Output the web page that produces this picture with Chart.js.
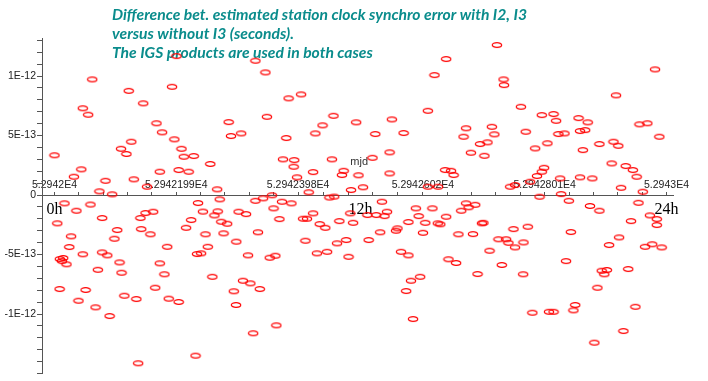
<!DOCTYPE html>
<html>
<head>
<meta charset="utf-8">
<script src="https://cdn.jsdelivr.net/npm/chart.js@4.4.0/dist/chart.umd.min.js"></script>
<style>
  html, body { margin: 0; padding: 0; background: #fff; }
  #wrap { width: 708px; height: 381px; position: relative; }
</style>
</head>
<body>
<div id="wrap"><canvas id="synchroDiff"></canvas></div>
<script>
// hour of day (0h = mjd 52942)
var hours = [
  1.48, 2.91, 4.61, 7.88, 8.27, 4.78, 3.48, 1.11, 1.32, 9.18,
  9.67, 8.33, 6.83, 4.00, 10.94, 11.83, 10.51, 10.23, 4.22, 6.92,
  7.32, 4.70, 3.01, 9.09, 2.61, 2.82, 4.98, 5.07, 5.46, 0.00,
  6.11, 8.96, 9.40, 9.38, 10.88, 1.05, 4.13, 4.87, 5.26, 10.14,
  11.34, 11.27, 11.92, 9.51, 0.76, 2.00, 3.11, 3.63, 6.38, 12.10,
  11.63, 1.76, 2.26, 9.97, 10.78, 10.97, 0.39, 1.41, 0.86, 0.11,
  1.87, 0.65, 0.58, 0.21, 0.34, 0.29, 0.47, 1.11, 1.87, 2.07,
  2.46, 2.35, 2.55, 1.70, 2.63, 0.20, 1.22, 0.94, 1.61, 2.16,
  2.74, 3.21, 3.95, 4.48, 4.87, 3.28, 5.53, 3.37, 3.57, 3.87,
  3.40, 3.76, 4.42, 4.13, 4.31, 5.63, 6.48, 5.82, 6.27, 6.40,
  5.36, 5.16, 5.92, 6.54, 6.77, 6.63, 6.01, 5.59, 5.75, 6.19,
  7.13, 7.22, 7.51, 7.88, 8.18, 8.53, 8.59, 8.82, 8.92, 9.29,
  7.98, 7.59, 8.44, 8.66, 7.39, 7.68, 8.05, 7.03, 7.12, 7.79,
  8.70, 9.75, 9.90, 10.14, 10.40, 10.62, 9.84, 11.17, 11.71, 11.60,
  10.29, 10.69, 11.08, 11.44, 11.53, 12.32, 12.27, 12.62, 12.84, 13.04,
  12.94, 12.77, 14.17, 14.82, 14.28, 13.88, 14.54, 15.36, 13.45, 13.39,
  14.45, 15.13, 15.03, 15.95, 16.14, 16.24, 16.50, 16.82, 16.76, 15.84,
  16.41, 13.59, 13.88, 15.45, 15.75, 17.06, 17.41, 17.71, 17.80, 18.06,
  18.39, 18.00, 18.56, 17.54, 16.59, 18.38, 14.34, 13.98, 13.79, 14.06,
  19.02, 19.87, 20.17, 21.00, 21.37, 20.25, 20.06, 18.74, 19.39, 19.57,
  20.42, 20.35, 21.17, 21.29, 21.46, 21.66, 21.56, 21.75, 22.14, 22.50,
  22.61, 22.31, 22.78, 22.90, 23.35, 23.62, 23.62, 23.16, 23.44, 23.81,
  23.07, 22.22, 17.35, 15.36, 14.90, 17.61, 17.63, 23.55, 22.02, 18.29,
  14.64, 13.23, 19.11, 19.57, 19.67, 20.55, 20.91, 22.94, 23.25, 12.58,
  13.69, 16.14, 16.04, 17.15, 17.25, 18.48, 19.76, 20.00, 20.61, 20.81,
  23.72, 16.69, 16.98, 19.33, 18.85, 21.37, 21.92, 22.11, 20.72, 16.33,
  16.86, 13.14, 12.47, 21.85, 22.40, 22.68, 22.83, 19.20, 19.11, 18.92,
  18.65, 15.32, 15.55, 15.65, 13.14, 20.61, 21.09, 19.83, 17.87, 14.64,
  15.04, 18.06
];
// synchro error difference, in units of 1E-13 s
var diffE13 = [
  9.72, 8.76, 9.10, 11.29, 10.31, 11.68, 7.71, 7.29, 6.75, 8.13,
  8.46, 6.58, 6.13, 6.03, 6.66, 6.11, 5.86, 5.18, 5.27, 4.96,
  5.18, 4.68, 4.48, 4.79, 3.89, 3.45, 3.89, 3.22, 3.28, 3.34,
  2.61, 3.00, 2.94, 2.38, 3.00, 2.16, 1.96, 2.10, 1.96, 1.93,
  2.04, 1.68, 1.66, 1.49, 1.54, 1.20, 1.32, 0.70, 0.48, 0.65,
  0.42, 0.31, 0.06, 0.23, -0.21, -0.13, -0.70, -0.80, -1.32, -2.38,
  -1.93, -3.47, -4.37, -5.38, -5.29, -5.55, -5.82, -4.98, -4.82, -5.07,
  -2.94, -3.67, -5.66, -6.28, -6.53, -7.90, -7.98, -8.88, -9.44, -10.17,
  -8.46, -8.74, -7.79, -8.71, -8.99, -14.14, -13.50, -1.93, -1.51, -1.40,
  -2.86, -3.30, -4.35, -5.74, -6.66, -0.67, -0.36, -1.39, -1.71, -1.37,
  -2.10, -2.75, -3.30, -2.24, -2.41, -3.22, -4.35, -4.96, -4.90, -6.87,
  -3.92, -1.40, -1.60, -0.48, -0.28, -0.02, -1.12, -2.02, -0.56, -0.70,
  -3.13, -5.07, -5.27, -5.10, -7.20, -7.42, -7.90, -8.09, -9.24, -11.62,
  -10.95, -1.99, -1.99, -1.54, -2.44, -2.75, -3.84, -2.19, -2.33, -1.54,
  -4.90, -4.77, -4.06, -3.78, -5.19, -3.78, -1.68, -1.68, -0.56, -1.40,
  -1.77, -3.13, -1.12, -1.12, -1.77, -2.27, -2.33, -1.82, -2.80, -3.00,
  -3.17, -2.46, -2.38, -1.32, -0.70, -1.03, -0.82, -2.33, -2.38, -3.30,
  -3.28, -4.77, -5.07, -5.40, -5.71, -4.68, -3.72, -3.72, -4.01, -4.40,
  -3.98, -2.86, -2.66, -5.88, -6.64, -6.66, -6.87, -7.20, -8.07, -10.42,
  -0.14, 0.08, -0.48, -0.92, -1.32, -3.11, -5.55, -9.89, -9.81, -9.81,
  -9.24, -9.69, -12.41, -7.79, -6.36, -6.30, -6.66, -4.20, -3.56, -6.22,
  -2.19, -11.43, -9.39, -0.65, -1.71, -2.02, -2.52, -4.35, -4.14, -4.40,
  0.28, 0.61, 12.61, 11.43, 10.08, 9.72, 9.24, 10.56, 8.38, 7.42,
  7.08, 6.36, 6.72, 6.81, 6.24, 6.47, 6.11, 5.94, 6.03, 5.13,
  5.21, 5.61, 4.90, 5.74, 5.10, 5.32, 5.13, 5.18, 5.38, 5.46,
  4.90, 4.29, 4.43, 4.35, 3.92, 4.29, 4.48, 4.14, 3.78, 3.56,
  3.30, 3.59, 3.13, 2.66, 2.44, 2.10, 1.54, 2.29, 1.96, 1.60,
  1.12, 2.10, 2.04, 1.68, 1.82, 1.49, 1.40, 1.40, 0.70, 0.70,
  0.70, 0.84
];

// x axis: mjd tick labels, placed at their hour of day
var xMajorHours = [0, 4.776, 9.552, 14.448, 19.224, 24];
var xMajorLabels = ['5.2942E4', '5.2942199E4', '5.2942398E4', '5.2942602E4', '5.2942801E4', '5.2943E4'];
var yMajorValues = [-10, -5, 0, 5, 10];
var yMajorLabels = ['-1E-12', '-5E-13', '0', '5E-13', '1E-12'];
var hourMarks = ['0h', '12h', '24h'];
var hourMarkPos = [0, 12, 24];
var titleLines = [
  'Difference bet. estimated station clock synchro error with I2, I3',
  'versus without I3 (seconds).',
  'The IGS products are used in both cases'
];

var tickFont = { family: '"Liberation Sans", Arial, sans-serif', size: 10.5 };

function ringImage() {
  var c = document.createElement('canvas');
  c.width = 12;
  c.height = 8;
  var g = c.getContext('2d');
  g.strokeStyle = '#ff0000';
  g.lineWidth = 1.2;
  g.beginPath();
  g.ellipse(6, 4, 4.7, 2.3, 0, 0, Math.PI * 2);
  g.stroke();
  return c;
}

var overlayText = {
  id: 'overlayText',
  beforeDatasetsDraw: function (chart) {
    var ctx = chart.ctx;
    var xs = chart.scales.x, ys = chart.scales.y;
    var zeroY = ys.getPixelForValue(0);
    ctx.save();
    ctx.textBaseline = 'middle';
    ctx.fillStyle = '#0a8c8c';
    ctx.font = 'italic bold 14px Lato';
    // fit the first title line to the width it has in the picture
    var size = 14 * 416 / ctx.measureText(titleLines[0]).width;
    ctx.font = 'italic bold ' + size.toFixed(1) + 'px Lato';
    var lineY = [15, 34, 53];
    titleLines.forEach(function (t, i) { ctx.fillText(t, 112, lineY[i]); });

    ctx.fillStyle = '#000';
    ctx.font = '16px "Liberation Serif"';
    ctx.textAlign = 'center';
    hourMarks.forEach(function (t, i) {
      ctx.fillText(t, xs.getPixelForValue(hourMarkPos[i]), zeroY + 15);
    });

    ctx.fillStyle = '#333';
    ctx.font = '11px ' + tickFont.family;
    ctx.fillText('mjd', xs.getPixelForValue(11.95), zeroY - 33);
    ctx.restore();
  }
};

var points = hours.map(function (h, i) { return { x: h, y: diffE13[i] }; });

new Chart(document.getElementById('synchroDiff'), {
  type: 'scatter',
  data: {
    datasets: [{
      label: 'diff',
      data: points,
      pointStyle: ringImage(),
    }]
  },
  options: {
    responsive: true,
    maintainAspectRatio: false,
    animation: false,
    layout: { padding: { top: 38, right: 35, bottom: 7.5, left: 0 } },
    plugins: {
      legend: { display: false },
      tooltip: { enabled: false },
    },
    scales: {
      x: {
        type: 'linear',
        position: { y: 0 },
        min: -0.49,
        max: 24.255,
        afterBuildTicks: function (scale) {
          var t = [];
          for (var i = 0; i < xMajorHours.length; i++) {
            t.push({ value: xMajorHours[i] });
            if (i < xMajorHours.length - 1) {
              var step = (xMajorHours[i + 1] - xMajorHours[i]) / 5;
              for (var j = 1; j < 5; j++) t.push({ value: xMajorHours[i] + step * j });
            }
          }
          scale.ticks = t;
        },
        ticks: {
          autoSkip: false,
          maxRotation: 0,
          padding: -12.5,
          color: '#222',
          font: tickFont,
          callback: function (v) {
            var i = xMajorHours.indexOf(v);
            return i < 0 ? '' : xMajorLabels[i];
          },
        },
        grid: { drawOnChartArea: false, tickLength: -4, color: '#555' },
        border: { color: '#555' },
      },
      y: {
        min: -15,
        max: 13.2,
        afterFit: function (scale) { scale.width = 42; },
        afterBuildTicks: function (scale) {
          var t = [];
          for (var v = -15; v <= 13; v++) t.push({ value: v });
          scale.ticks = t;
        },
        ticks: {
          autoSkip: false,
          padding: 1,
          color: '#222',
          font: tickFont,
          callback: function (v) {
            var i = yMajorValues.indexOf(v);
            return i < 0 ? '' : yMajorLabels[i];
          },
        },
        grid: { drawOnChartArea: false, tickLength: 5, color: '#555' },
        border: { color: '#555' },
      },
    },
  },
  plugins: [overlayText],
});
</script>
</body>
</html>
